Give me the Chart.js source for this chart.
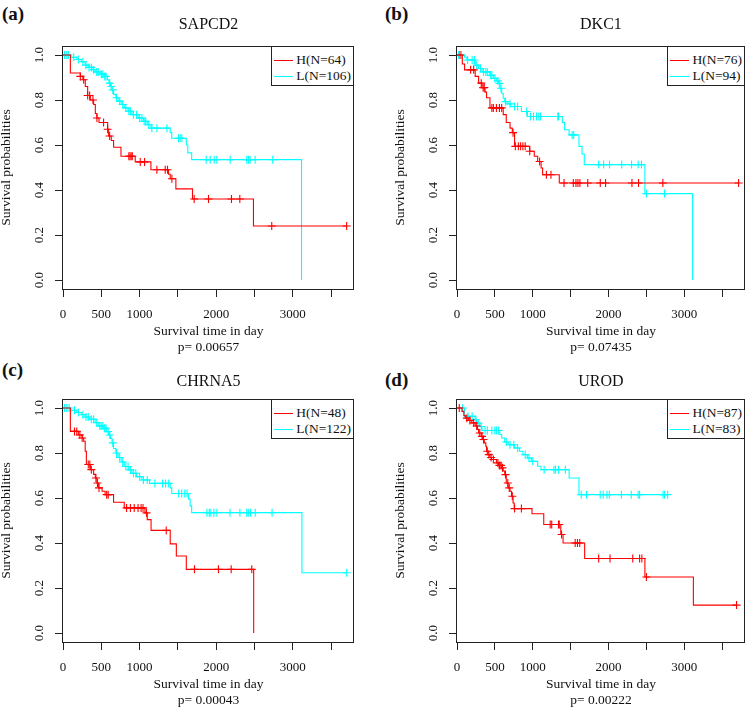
<!DOCTYPE html>
<html>
<head>
<meta charset="utf-8">
<script src="https://cdn.jsdelivr.net/npm/chart.js@4.4.1/dist/chart.umd.min.js"></script>
<style>
    body {
        margin: 0;
        width: 750px;
        height: 709px;
        position: relative;
        overflow: hidden;
        background: #ffffff;
        font-family: "Liberation Serif", "Times New Roman", serif;
        color: #111;
    }
    .panel { position: absolute; }
    .tag {
        position: absolute;
        font-weight: bold;
        font-size: 19px;
        line-height: 19px;
    }
    .legend {
        position: absolute;
        border: 1px solid #222;
        background: #fff;
        padding: 5px 2px 1px 2px;
        font-size: 13.5px;
        line-height: 16px;
        white-space: nowrap;
    }
    .legend .row {
        display: flex;
        align-items: flex-start;
        height: 16px;
    }
    .legend .swatch {
        flex: none;
        width: 19px;
        height: 1px;
        margin-top: 8px;
        margin-right: 3px;
    }
</style>
</head>
<body>
<div class="tag" style="left:2px;top:4px">(a)</div>
<div class="tag" style="left:385px;top:4px">(b)</div>
<div class="tag" style="left:2px;top:360px">(c)</div>
<div class="tag" style="left:385px;top:370px">(d)</div>

<div class="panel" style="left:0;top:0"><canvas id="chartA" width="375" height="355"></canvas><div class="legend" id="legendA"></div></div>
<div class="panel" style="left:375px;top:0"><canvas id="chartB" width="375" height="355"></canvas><div class="legend" id="legendB"></div></div>
<div class="panel" style="left:0;top:355px"><canvas id="chartC" width="375" height="354"></canvas><div class="legend" id="legendC"></div></div>
<div class="panel" style="left:375px;top:355px"><canvas id="chartD" width="375" height="354"></canvas><div class="legend" id="legendD"></div></div>

<script>
// Axis ticks
const xTicks = [0, 500, 1000, 1500, 2000, 2500, 3000, 3500];
const xTickLabels = ["0", "500", "1000", "", "2000", "", "3000", ""];
const yTicks = [0, 0.2, 0.4, 0.6, 0.8, 1.0];
const yTickLabels = ["0.0", "0.2", "0.4", "0.6", "0.8", "1.0"];

const geneNames = ["SAPCD2", "DKC1", "CHRNA5", "UROD"];
const pValues = ["0.00657", "0.07435", "0.00043", "0.00222"];
const highCounts = [64, 76, 48, 87];
const lowCounts = [106, 94, 122, 83];

// SAPCD2 - step times (day), survival after step, censor times
const sapcd2HighTime = [0, 96, 226, 260, 291, 322, 357, 400, 422, 443, 470, 583, 596, 630, 661, 757, 943, 1148, 1378, 1400, 1474, 1691, 2487];
const sapcd2HighSurv = [1.0, 0.92, 0.905, 0.89, 0.86, 0.82, 0.80, 0.78, 0.74, 0.72, 0.70, 0.67, 0.64, 0.62, 0.59, 0.55, 0.525, 0.49, 0.47, 0.45, 0.405, 0.36, 0.24];
const sapcd2HighCensor = [226, 270, 322, 348, 391, 443, 530, 583, 609, 860, 875, 890, 905, 1009, 1065, 1226, 1335, 1365, 1422, 1713, 1900, 2200, 2309, 2726, 3704];
const sapcd2LowTime = [0, 100, 180, 240, 290, 330, 380, 420, 480, 540, 580, 600, 620, 640, 660, 690, 720, 760, 800, 850, 900, 980, 1050, 1100, 1150, 1400, 1420, 1610, 1630, 1680, 3115];
const sapcd2LowSurv = [1.0, 0.99, 0.98, 0.97, 0.955, 0.945, 0.935, 0.925, 0.915, 0.905, 0.89, 0.875, 0.86, 0.845, 0.825, 0.81, 0.795, 0.78, 0.765, 0.75, 0.735, 0.72, 0.705, 0.69, 0.675, 0.655, 0.63, 0.60, 0.565, 0.535, 0.0];
const sapcd2LowCensor = [20, 50, 70, 140, 200, 260, 300, 340, 370, 400, 440, 460, 500, 520, 545, 560, 610, 630, 650, 700, 740, 780, 820, 860, 880, 920, 960, 1000, 1030, 1060, 1080, 1120, 1160, 1226, 1357, 1509, 1530, 1552, 1870, 1922, 1974, 2009, 2183, 2400, 2422, 2443, 2509, 2739];

// DKC1
const dkc1HighTime = [0, 70, 100, 240, 285, 330, 370, 390, 435, 610, 650, 700, 730, 760, 960, 1020, 1065, 1110, 1130, 1350];
const dkc1HighSurv = [1.0, 0.96, 0.934, 0.905, 0.875, 0.855, 0.835, 0.81, 0.765, 0.735, 0.70, 0.675, 0.655, 0.594, 0.572, 0.55, 0.527, 0.498, 0.468, 0.431];
const dkc1HighCensor = [40, 180, 220, 320, 345, 360, 460, 480, 520, 560, 590, 740, 770, 810, 840, 870, 900, 960, 1090, 1180, 1240, 1413, 1535, 1570, 1596, 1622, 1726, 1891, 1961, 2309, 2396, 2717, 3717];
const dkc1LowTime = [0, 100, 130, 240, 285, 330, 435, 480, 520, 545, 565, 590, 610, 630, 670, 710, 850, 930, 1390, 1420, 1480, 1610, 1650, 1680, 2480, 3110];
const dkc1LowSurv = [1.0, 0.99, 0.978, 0.955, 0.94, 0.925, 0.91, 0.896, 0.885, 0.874, 0.852, 0.83, 0.808, 0.793, 0.783, 0.771, 0.749, 0.727, 0.70, 0.668, 0.645, 0.594, 0.56, 0.513, 0.384, 0.0];
const dkc1LowCensor = [20, 60, 140, 200, 230, 260, 310, 350, 380, 400, 440, 460, 500, 540, 560, 580, 640, 700, 760, 800, 920, 970, 1010, 1050, 1080, 1100, 1330, 1340, 1520, 1540, 1870, 1935, 2013, 2174, 2304, 2391, 2435, 2500, 2739];

// CHRNA5
const chrna5HighTime = [0, 96, 200, 250, 270, 290, 305, 357, 400, 422, 443, 465, 510, 550, 660, 800, 1070, 1100, 1150, 1400, 1480, 1610, 2490];
const chrna5HighSurv = [1.0, 0.896, 0.88, 0.867, 0.852, 0.808, 0.749, 0.726, 0.705, 0.689, 0.667, 0.645, 0.63, 0.615, 0.581, 0.556, 0.534, 0.504, 0.456, 0.396, 0.342, 0.283, 0.0];
const chrna5HighCensor = [150, 180, 220, 250, 330, 350, 370, 430, 450, 470, 570, 590, 830, 880, 930, 980, 1020, 1045, 1090, 1348, 1717, 2030, 2196, 2465];
const chrna5LowTime = [0, 100, 180, 240, 290, 350, 420, 460, 530, 570, 600, 620, 640, 660, 690, 720, 760, 800, 860, 900, 960, 1030, 1130, 1400, 1420, 1640, 1660, 1680, 3120];
const chrna5LowSurv = [1.0, 0.99, 0.98, 0.97, 0.96, 0.95, 0.935, 0.92, 0.91, 0.895, 0.88, 0.865, 0.845, 0.82, 0.80, 0.78, 0.76, 0.74, 0.725, 0.71, 0.695, 0.68, 0.665, 0.645, 0.62, 0.595, 0.565, 0.535, 0.268];
const chrna5LowCensor = [20, 50, 80, 150, 200, 260, 300, 330, 370, 400, 440, 480, 500, 520, 540, 560, 590, 610, 650, 700, 740, 780, 820, 850, 880, 920, 950, 1000, 1050, 1100, 1200, 1300, 1340, 1380, 1510, 1550, 1590, 1620, 1880, 1910, 1930, 1970, 2010, 2180, 2310, 2400, 2420, 2450, 2510, 2730, 3705];

// UROD
const urodHighTime = [0, 65, 90, 110, 150, 195, 240, 270, 285, 320, 340, 360, 380, 390, 410, 435, 455, 520, 550, 590, 610, 630, 650, 675, 700, 720, 740, 755, 990, 1145, 1370, 1400, 1685, 2480, 3120];
const urodHighSurv = [1.0, 0.985, 0.966, 0.955, 0.945, 0.934, 0.92, 0.905, 0.889, 0.874, 0.86, 0.845, 0.83, 0.808, 0.793, 0.78, 0.771, 0.756, 0.745, 0.734, 0.72, 0.704, 0.667, 0.645, 0.63, 0.608, 0.578, 0.553, 0.53, 0.482, 0.438, 0.40, 0.331, 0.249, 0.124];
const urodHighCensor = [30, 130, 170, 220, 260, 300, 330, 350, 400, 420, 450, 480, 540, 560, 580, 600, 640, 670, 690, 730, 760, 850, 1230, 1250, 1340, 1350, 1380, 1560, 1590, 1620, 1870, 2020, 2320, 2410, 2440, 2500, 3690];
const urodLowTime = [0, 100, 240, 260, 300, 330, 565, 590, 630, 675, 760, 825, 870, 930, 980, 1065, 1110, 1480, 1610];
const urodLowSurv = [1.0, 0.963, 0.948, 0.933, 0.918, 0.90, 0.882, 0.867, 0.849, 0.837, 0.822, 0.808, 0.793, 0.778, 0.763, 0.741, 0.726, 0.689, 0.615];
const urodLowCensor = [75, 145, 200, 250, 280, 320, 370, 400, 460, 500, 520, 550, 650, 700, 750, 800, 900, 950, 1000, 1150, 1280, 1300, 1340, 1430, 1640, 1710, 1890, 1930, 1980, 2010, 2170, 2300, 2390, 2410, 2720, 2740, 2780];

const RED = "#ff0000";
const CYAN = "#00ffff";
const SERIF = '"Liberation Serif", "Times New Roman", serif';

// Panel layout (canvas-local pixels)
const panels = [
    { canvas: "chartA", legend: "legendA", high: [sapcd2HighTime, sapcd2HighSurv, sapcd2HighCensor], low: [sapcd2LowTime, sapcd2LowSurv, sapcd2LowCensor],
      padLeft: 0, padRight: 21, titleTop: 14.9, titleBottom: 11.9, xHeight: 66, xTitlePad: -1 },
    { canvas: "chartB", legend: "legendB", high: [dkc1HighTime, dkc1HighSurv, dkc1HighCensor], low: [dkc1LowTime, dkc1LowSurv, dkc1LowCensor],
      padLeft: 19, padRight: 2, titleTop: 14.9, titleBottom: 11.9, xHeight: 66, xTitlePad: -1 },
    { canvas: "chartC", legend: "legendC", high: [chrna5HighTime, chrna5HighSurv, chrna5HighCensor], low: [chrna5LowTime, chrna5LowSurv, chrna5LowCensor],
      padLeft: 0, padRight: 21, titleTop: 17.1, titleBottom: 7.7, xHeight: 67, xTitlePad: 0 },
    { canvas: "chartD", legend: "legendD", high: [urodHighTime, urodHighSurv, urodHighCensor], low: [urodLowTime, urodLowSurv, urodLowCensor],
      padLeft: 19, padRight: 2, titleTop: 17.1, titleBottom: 7.7, xHeight: 67, xTitlePad: 0 },
];

// Kaplan-Meier step points, extended to the last censored subject
function stepPoints(times, surv, censor) {
    const pts = times.map((t, i) => ({ x: t, y: surv[i] }));
    const lastCensor = Math.max(...censor);
    if (lastCensor > times[times.length - 1]) {
        pts.push({ x: lastCensor, y: surv[surv.length - 1] });
    }
    return pts;
}

function survAt(times, surv, t) {
    let s = surv[0];
    for (let i = 0; i < times.length; i++) {
        if (times[i] <= t) s = surv[i];
    }
    return s;
}

function censorPoints(times, surv, censor) {
    return censor.map((t) => ({ x: t, y: survAt(times, surv, t) }));
}

function curveDatasets(curve, color) {
    const [times, surv, censor] = curve;
    return [
        {
            data: stepPoints(times, surv, censor),
            showLine: true,
            stepped: "before",
            borderColor: color,
            borderWidth: 1.1,
            pointRadius: 0,
        },
        {
            data: censorPoints(times, surv, censor),
            showLine: false,
            pointStyle: "cross",
            pointRadius: 4,
            borderColor: color,
            backgroundColor: color,
            borderWidth: 1.1,
        },
    ];
}

// Full plot box like R's bty="o"
const plotBox = {
    id: "plotBox",
    afterDraw(chart) {
        const { ctx, chartArea: a } = chart;
        ctx.save();
        ctx.strokeStyle = "#222";
        ctx.lineWidth = 1;
        ctx.strokeRect(Math.round(a.left) - 0.5, Math.round(a.top) + 0.5, Math.round(a.right - a.left), Math.round(a.bottom - a.top));
        ctx.restore();
    },
};

// Place the html legend in the top-right corner of the plot box
const legendPlacer = {
    id: "legendPlacer",
    afterLayout(chart) {
        const el = document.getElementById(chart.options.legendId);
        if (!el) return;
        el.style.right = Math.round(chart.width - chart.chartArea.right) + "px";
        el.style.top = Math.round(chart.chartArea.top) + "px";
    },
};

panels.forEach((p, idx) => {
    const legendEl = document.getElementById(p.legend);
    legendEl.innerHTML =
        `<div class="row"><span class="swatch" style="background:${RED}"></span>H(N=${highCounts[idx]})</div>` +
        `<div class="row"><span class="swatch" style="background:${CYAN}"></span>L(N=${lowCounts[idx]})</div>`;

    const tickGrid = {
        display: true,
        drawOnChartArea: false,
        drawTicks: true,
        tickLength: 8,
        color: "#222",
        lineWidth: 1,
    };

    new Chart(document.getElementById(p.canvas), {
        type: "scatter",
        data: {
            datasets: [...curveDatasets(p.high, RED), ...curveDatasets(p.low, CYAN)],
        },
        plugins: [plotBox, legendPlacer],
        options: {
            legendId: p.legend,
            responsive: false,
            animation: false,
            events: [],
            layout: {
                padding: { left: p.padLeft, right: p.padRight, top: 0, bottom: 0 },
            },
            plugins: {
                legend: { display: false },
                tooltip: { enabled: false },
                title: {
                    display: true,
                    fullSize: false,
                    text: geneNames[idx],
                    color: "#111",
                    font: { family: SERIF, size: 16, weight: "normal", lineHeight: 1.2 },
                    padding: { top: p.titleTop, bottom: p.titleBottom },
                },
            },
            scales: {
                x: {
                    type: "linear",
                    min: 0,
                    max: 3800,
                    afterBuildTicks: (scale) => {
                        scale.ticks = xTicks.map((v) => ({ value: v }));
                    },
                    afterFit: (scale) => {
                        scale.height = p.xHeight;
                    },
                    grid: tickGrid,
                    border: { display: false },
                    ticks: {
                        autoSkip: false,
                        maxRotation: 0,
                        padding: 10,
                        color: "#111",
                        font: { family: SERIF, size: 13 },
                        callback: (value) => xTickLabels[xTicks.indexOf(value)],
                    },
                    title: {
                        display: true,
                        text: ["Survival time in day", "p= " + pValues[idx]],
                        color: "#111",
                        font: { family: SERIF, size: 13.5, lineHeight: 1.2 },
                        padding: { top: 0, bottom: p.xTitlePad },
                    },
                },
                y: {
                    type: "linear",
                    min: -0.04,
                    max: 1.04,
                    afterBuildTicks: (scale) => {
                        scale.ticks = yTicks.map((v) => ({ value: v }));
                    },
                    afterFit: (scale) => {
                        scale.width = 63;
                    },
                    grid: tickGrid,
                    border: { display: false },
                    ticks: {
                        minRotation: 90,
                        maxRotation: 90,
                        crossAlign: "center",
                        padding: 7,
                        color: "#111",
                        font: { family: SERIF, size: 13 },
                        callback: (value) => yTickLabels[yTicks.indexOf(value)],
                    },
                    title: {
                        display: true,
                        text: "Survival probabilities",
                        color: "#111",
                        font: { family: SERIF, size: 13.5, lineHeight: 1.2 },
                        padding: { top: -1.5, bottom: 0 },
                    },
                },
            },
        },
    });
});
</script>
</body>
</html>
